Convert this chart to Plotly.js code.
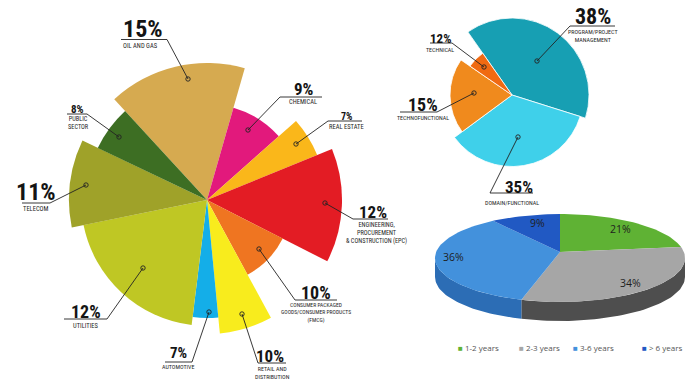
<!DOCTYPE html>
<html>
<head>
<meta charset="utf-8">
<script src="https://cdn.plot.ly/plotly-3.0.1.min.js"></script>
<style>html,body{margin:0;padding:0;background:#fff;}#chart{width:693px;height:390px;}</style>
</head>
<body>
<div id="chart"></div>
<script>
// ---------- DATA ----------
// Left: industry mix (variable-radius pie)
const industries = ['OIL AND GAS','CHEMICAL','REAL ESTATE','ENGINEERING,<br>PROCUREMENT<br>& CONSTRUCTION (EPC)','CONSUMER PACKAGED<br>GOODS/CONSUMER PRODUCTS<br>(FMCG)','RETAIL AND<br>DISTRIBUTION','AUTOMOTIVE','UTILITIES','TELECOM','PUBLIC<br>SECTOR'];
const industryShare = [15, 9, 7, 12, 10, 10, 7, 12, 11, 8];
const industryRadius = [137, 96, 119, 135, 85, 134, 118, 126, 138, 121];
const industrySpan = [58.6, 32.4, 19.4, 49.2, 34.5, 23, 12.5, 71.5, 37, 21.9];
const industryColors = ['#d6aa50','#e2197c','#fab71a','#e31c24','#ef7521','#f8ec1d','#14aee8','#bfc724','#9fa229','#3d6e23'];

// Top right: role mix
const roles = ['PROGRAM/PROJECT<br>MANAGEMENT','DOMAIN/FUNCTIONAL','TECHNOFUNCTIONAL','TECHNICAL'];
const roleShare = [38, 35, 15, 12];
const roleRadius = [77, 71.5, 62, 51];
const roleSpan = [142.5, 126.1, 70.9, 20.5];
const roleColors = ['#179fb3','#3fd0ea','#f08a1d','#f06a12'];

// Bottom right: experience mix
const experience = ['1-2 years','2-3 years','3-6 years','> 6 years'];
const experienceShare = [21, 34, 36, 9];
const expTopColors = ['#5fb234','#a6a6a6','#4391dc','#2159c3'];
const expSideColors = ['#3f8a1f','#4e4e4e','#2c6db5','#17419a'];

// ---------- LAYOUT HELPERS ----------
const W = 693, H = 390;
function centers(start, spans){
  const out = []; let a = start;
  spans.forEach(s => { out.push(a + s/2); a += s; });
  return out;
}
function polarDomain(cx, cy, R){
  return {x:[(cx-R)/W,(cx+R)/W], y:[1-(cy+R)/H, 1-(cy-R)/H]};
}

const traces = [];
traces.push({
  type:'barpolar', subplot:'polar',
  r: industryRadius, theta: centers(-42.6, industrySpan), width: industrySpan,
  marker:{color: industryColors, line:{width:0}},
  hoverinfo:'skip', showlegend:false
});
traces.push({
  type:'barpolar', subplot:'polar2',
  r: roleRadius, theta: centers(-35, roleSpan), width: roleSpan,
  marker:{color: roleColors, line:{width:0.8, color:'#ffffff'}},
  hoverinfo:'skip', showlegend:false
});

// 3D-looking elliptical pie
const E = {cx:560, cy:258, rx:125, ry:44, depth:19, apexDy:-6};
function ell(th, dy){
  const r = th*Math.PI/180;
  return [E.cx + E.rx*Math.sin(r), E.cy - E.ry*Math.cos(r) + (dy||0)];
}
function arc(a, b, dy){
  const pts = []; const n = Math.max(2, Math.ceil(Math.abs(b-a)/2));
  for(let i=0;i<=n;i++){ pts.push(ell(a+(b-a)*i/n, dy)); }
  return pts;
}
let acc = 0; const sliceAng = [];
experienceShare.forEach(v => { sliceAng.push([acc, acc + v*3.6]); acc += v*3.6; });
// sides
sliceAng.forEach((ab, i) => {
  const lo = Math.max(ab[0], 90), hi = Math.min(ab[1], 270);
  if(lo < hi){
    const pts = arc(lo, hi, 0).concat(arc(hi, lo, E.depth));
    traces.push({type:'scatter', x:pts.map(p=>p[0]), y:pts.map(p=>p[1]), mode:'lines', fill:'toself',
      fillcolor: expSideColors[i], line:{width:0, color: expSideColors[i]}, hoverinfo:'skip', showlegend:false});
  }
});
// tops
sliceAng.forEach((ab, i) => {
  const pts = [[E.cx, E.cy+E.apexDy]].concat(arc(ab[0], ab[1], 0));
  pts.push([E.cx, E.cy+E.apexDy]);
  traces.push({type:'scatter', x:pts.map(p=>p[0]), y:pts.map(p=>p[1]), mode:'lines', fill:'toself',
    fillcolor: expTopColors[i], line:{width:0, color: expTopColors[i]}, hoverinfo:'skip', showlegend:false});
});

// ---------- LABELS ----------
const labelLayout = [
  // industries
  {src:'ind', i:0, px:143, py:28, fs:24, uy:39.5, ux:[121,167], ny:45.5, nx:140, nfs:6.5, dot:[188,79], to:[167,39.5]},
  {src:'ind', i:1, px:304, py:88, fs:17, uy:97, ux:[280,322], ny:101.5, nx:303, nfs:6.5, dot:[248,130], to:[280,97]},
  {src:'ind', i:2, px:346, py:116, fs:10, uy:121, ux:[328,362], ny:126.5, nx:346, nfs:6.5, dot:[296,144], to:[328,121]},
  {src:'ind', i:3, px:373, py:211, fs:17, uy:219, ux:[353,388], ny:224.5, nx:376, nfs:6.3, dot:[325,203], to:[353,219]},
  {src:'ind', i:4, px:316, py:292, fs:18, uy:300, ux:[295,337], ny:306, nx:316, nfs:5.6, dot:[259,249], to:[295,300]},
  {src:'ind', i:5, px:270, py:355, fs:17, uy:363, ux:[258,286], ny:368.5, nx:272, nfs:6, dot:[242,314], to:[258,363]},
  {src:'ind', i:6, px:178, py:352, fs:15, uy:362, ux:[165,192], ny:366.5, nx:178, nfs:6, dot:[209,312], to:[192,362]},
  {src:'ind', i:7, px:86, py:311, fs:18, uy:319, ux:[64,107], ny:326, nx:86, nfs:6.5, dot:[143,268], to:[107,319]},
  {src:'ind', i:8, px:36, py:191, fs:24, uy:203, ux:[22,50], ny:208.5, nx:36, nfs:6.5, dot:[86,185], to:[50,203]},
  {src:'ind', i:9, px:77, py:109, fs:11, uy:114, ux:[67,87], ny:118.5, nx:78, nfs:6.3, dot:[119,137], to:[87,114]},
  // roles
  {src:'role', i:0, px:593, py:16, fs:22, uy:26, ux:[570,615], ny:32, nx:593, nfs:6, dot:[537,61], to:[570,26]},
  {src:'role', i:1, px:519, py:186, fs:17, uy:193, ux:[490,533], ny:202, nx:512, nfs:6, dot:[518,137], to:[490,193]},
  {src:'role', i:2, px:423, py:104, fs:18, uy:112, ux:[400,437], ny:117, nx:423, nfs:6, dot:[474,93], to:[437,112]},
  {src:'role', i:3, px:440, py:38, fs:13, uy:43, ux:[430,452], ny:49, nx:440, nfs:6, dot:[484,67], to:[452,43]}
];

const annotations = [], shapes = [];
const PCT_FONT = '"Roboto Condensed", "DejaVu Sans Condensed", sans-serif';
labelLayout.forEach(L => {
  const name = L.src === 'ind' ? industries[L.i] : roles[L.i];
  const val = L.src === 'ind' ? industryShare[L.i] : roleShare[L.i];
  annotations.push({xref:'x', yref:'y', x:L.px, y:L.py + L.fs*0.04, text:'<b>'+val+'%</b>', showarrow:false,
    xanchor:'center', yanchor:'middle', font:{family:PCT_FONT, size:L.fs, color:'#141414'}});
  const lines = name.split('<br>').length;
  const lh = L.nfs*1.3;
  annotations.push({xref:'x', yref:'y', x:L.nx, y:L.ny + (lines-1)*lh/2, text:name, showarrow:false,
    xanchor:'center', yanchor:'middle', align:'center', font:{family:PCT_FONT, size:L.nfs, color:'#262626'}});
  const other = (Math.abs(L.to[0]-L.ux[0]) < 0.5) ? L.ux[1] : L.ux[0];
  shapes.push({type:'path', xref:'x', yref:'y', layer:'above',
    path:'M'+L.dot[0]+','+L.dot[1]+' L'+L.to[0]+','+L.to[1]+' L'+other+','+L.uy,
    line:{color:'#222222', width:0.9}});
  shapes.push({type:'circle', xref:'x', yref:'y', layer:'above',
    x0:L.dot[0]-2.2, x1:L.dot[0]+2.2, y0:L.dot[1]-2.2, y1:L.dot[1]+2.2,
    line:{color:'#222222', width:0.9}, fillcolor:'rgba(0,0,0,0)'});
});

// 3D pie value labels
const expLabelPos = [[620,229],[630,283],[453,257],[537,223]];
experienceShare.forEach((v, i) => {
  annotations.push({xref:'x', yref:'y', x:expLabelPos[i][0], y:expLabelPos[i][1], text:v+'%', showarrow:false,
    font:{family:'"Open Sans", sans-serif', size:10.5, color:'#1e1e1e'}});
});
// legend row
const legX = [456, 517, 571, 640];
experience.forEach((name, i) => {
  annotations.push({xref:'x', yref:'y', x:legX[i], y:347, xanchor:'left', text:'<span style="color:'+expTopColors[i]+'">■</span> '+name,
    showarrow:false, font:{family:'"Open Sans", sans-serif', size:8, color:'#555555'}});
});

const layout = {
  width:W, height:H, margin:{l:0,r:0,t:0,b:0},
  paper_bgcolor:'#ffffff', plot_bgcolor:'rgba(0,0,0,0)', showlegend:false,
  xaxis:{range:[0,W], visible:false, fixedrange:true},
  yaxis:{range:[H,0], visible:false, fixedrange:true},
  polar:{domain: polarDomain(207,200,140), bgcolor:'rgba(0,0,0,0)',
    radialaxis:{visible:false, range:[0,140]},
    angularaxis:{visible:false, rotation:90, direction:'clockwise'}},
  polar2:{domain: polarDomain(512,95,80), bgcolor:'rgba(0,0,0,0)',
    radialaxis:{visible:false, range:[0,80]},
    angularaxis:{visible:false, rotation:90, direction:'clockwise'}},
  annotations: annotations, shapes: shapes
};
Plotly.newPlot('chart', traces, layout, {displayModeBar:false, staticPlot:true});
</script>
</body>
</html>
